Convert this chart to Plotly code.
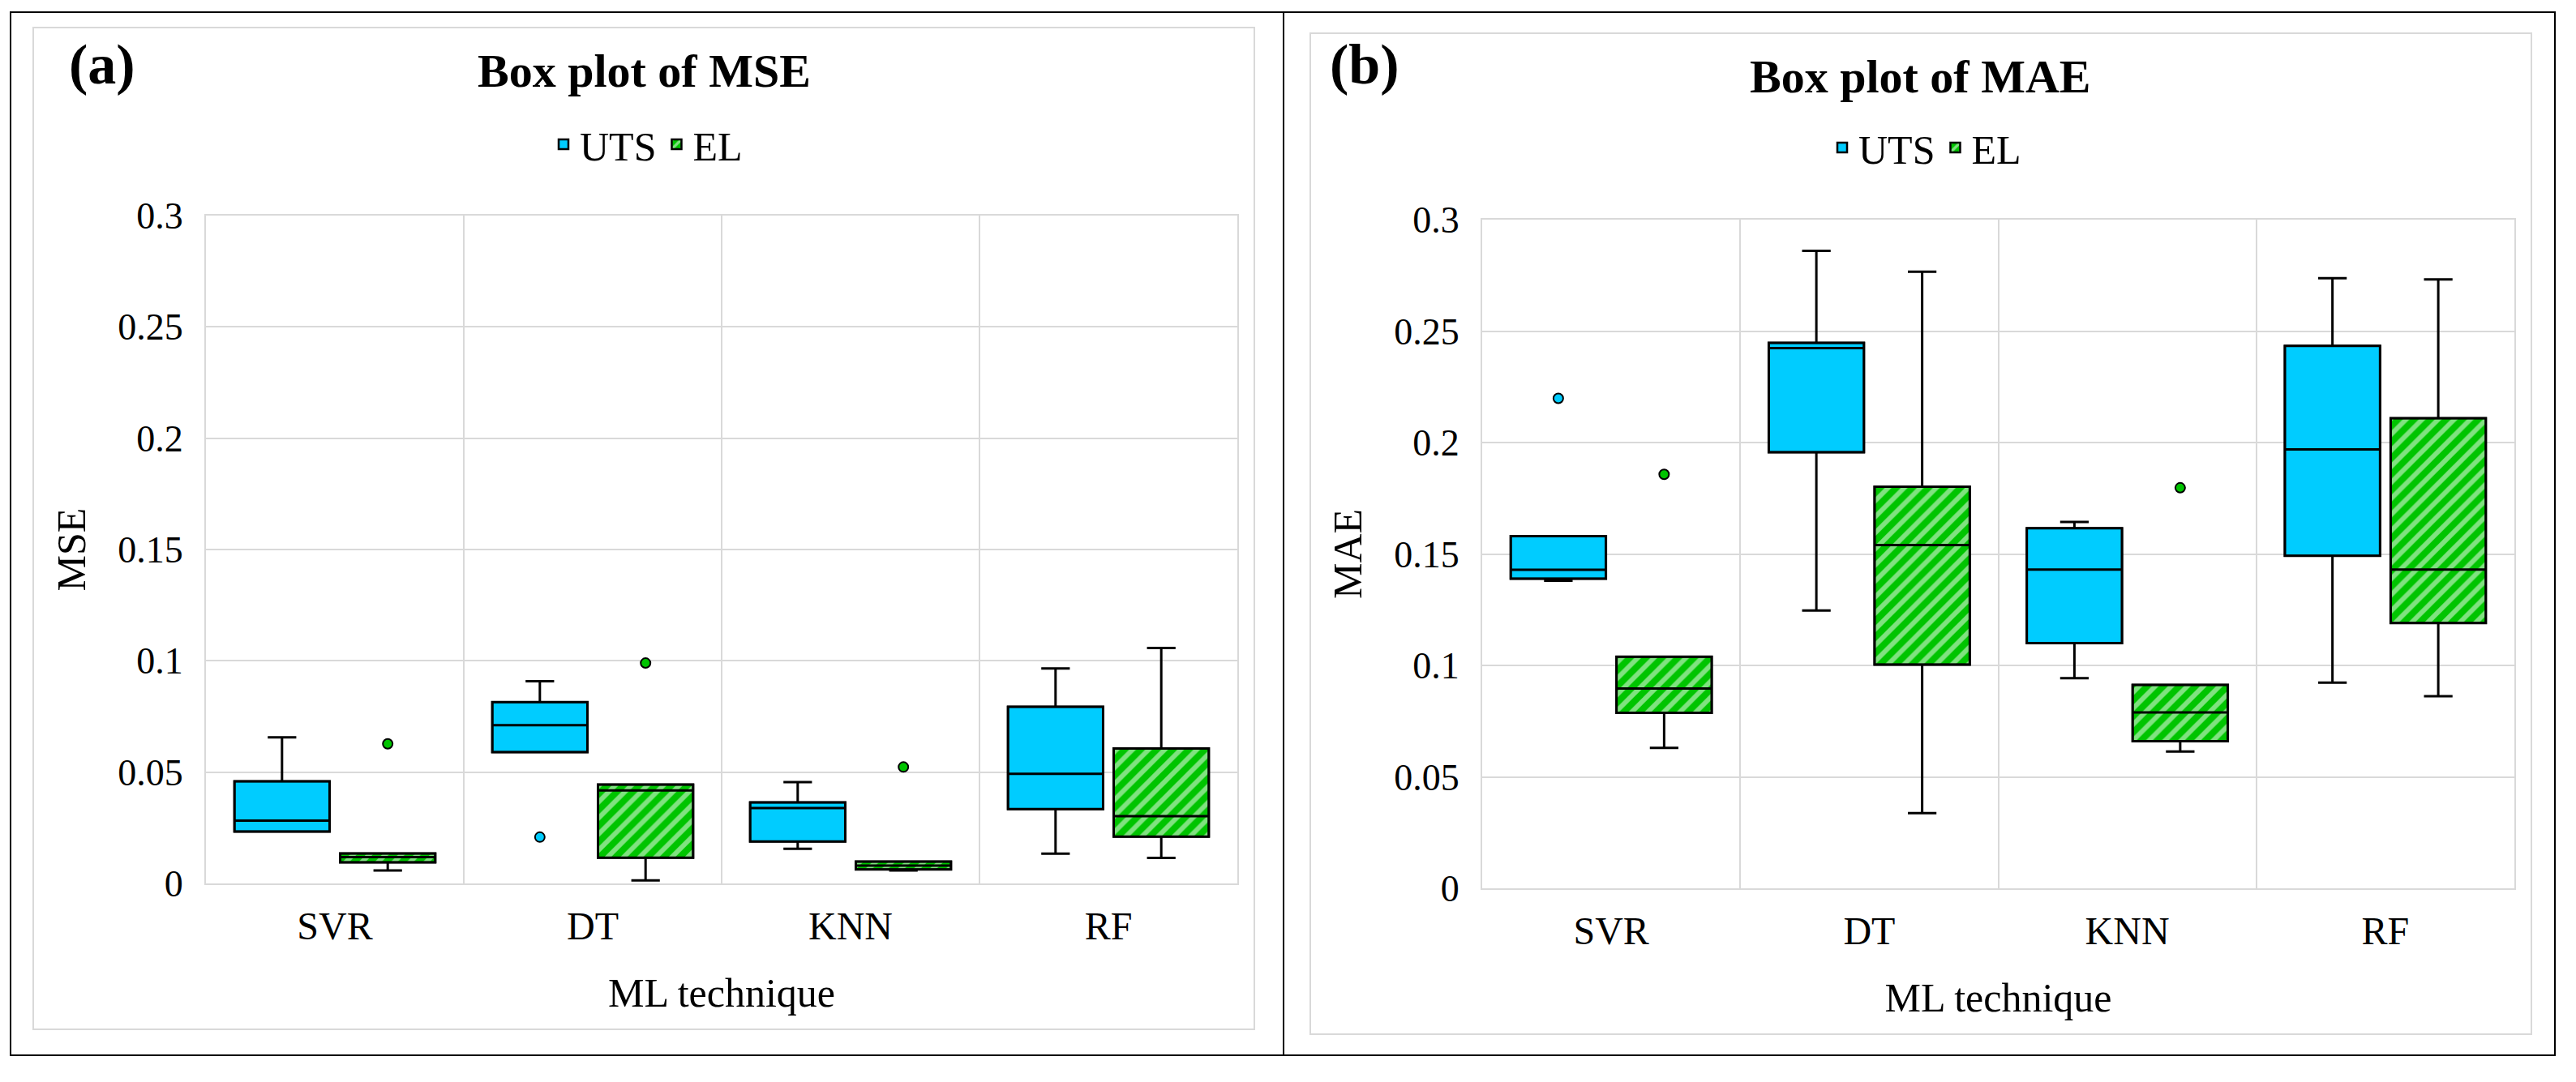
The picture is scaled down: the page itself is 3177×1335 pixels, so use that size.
import plotly.graph_objects as go

# page is rendered with an 8px body margin: figure sized to fit, coordinates shifted
OFF = 8
W, H = 3177 - 2 * OFF, 1335 - 2 * OFF

categories = ["SVR", "DT", "KNN", "RF"]

# ---- MSE (panel a) ----
mse_uts_lower = [0.0233, 0.0590, 0.0156, 0.0134]
mse_uts_q1 = [0.0233, 0.0590, 0.0188, 0.0334]
mse_uts_median = [0.0282, 0.0711, 0.0339, 0.0492]
mse_uts_q3 = [0.0459, 0.0815, 0.0364, 0.0794]
mse_uts_upper = [0.0656, 0.0908, 0.0455, 0.0966]
mse_uts_out_x = ["DT"]
mse_uts_out_y = [0.0208]

mse_el_lower = [0.0058, 0.0014, 0.0058, 0.0115]
mse_el_q1 = [0.0095, 0.0116, 0.0063, 0.0210]
mse_el_median = [0.0118, 0.0418, 0.0080, 0.0302]
mse_el_q3 = [0.0135, 0.0444, 0.0098, 0.0606]
mse_el_upper = [0.0135, 0.0444, 0.0098, 0.1058]
mse_el_out_x = ["SVR", "DT", "KNN"]
mse_el_out_y = [0.0627, 0.0990, 0.0523]

# ---- MAE (panel b) ----
mae_uts_lower = [0.1380, 0.1246, 0.0943, 0.0923]
mae_uts_q1 = [0.1389, 0.1956, 0.1100, 0.1492]
mae_uts_median = [0.1429, 0.2424, 0.1430, 0.1969]
mae_uts_q3 = [0.1580, 0.2447, 0.1615, 0.2434]
mae_uts_upper = [0.1580, 0.2860, 0.1644, 0.2737]
mae_uts_out_x = ["SVR"]
mae_uts_out_y = [0.2198]

mae_el_lower = [0.0630, 0.0337, 0.0614, 0.0862]
mae_el_q1 = [0.0787, 0.1004, 0.0660, 0.1190]
mae_el_median = [0.0896, 0.1540, 0.0789, 0.1430]
mae_el_q3 = [0.1039, 0.1802, 0.0913, 0.2109]
mae_el_upper = [0.1039, 0.2766, 0.0913, 0.2732]
mae_el_out_x = ["SVR", "KNN"]
mae_el_out_y = [0.1857, 0.1797]

ytick_vals = [0, 0.05, 0.1, 0.15, 0.2, 0.25, 0.3]
ytick_text = ["0", "0.05", "0.1", "0.15", "0.2", "0.25", "0.3"]

CYAN = "#00CCFF"
GREEN = "#00C400"
GRID = "#d9d9d9"
FONT = "Liberation Serif, Times New Roman, serif"

fig = go.Figure()


def add_panel(xa, ya, lg, uts, el, uts_out, el_out):
    ag = "grp_" + xa
    for name, stats, color, pattern, og in [
        ("UTS", uts, CYAN, None, "UTS"),
        ("EL", el, GREEN, dict(shape="/", fgcolor="white", bgcolor=GREEN,
                               size=14, solidity=0.42), "EL"),
    ]:
        lo, q1, med, q3, up = stats
        marker = dict(color=color, line=dict(color="black", width=2.5))
        if pattern is not None:
            marker["pattern"] = pattern
        fig.add_trace(go.Bar(
            x=categories, y=[b - a for a, b in zip(q1, q3)], base=q1,
            name=name, marker=marker, xaxis=xa, yaxis=ya, legend=lg,
            offsetgroup=og, alignmentgroup=ag, showlegend=True,
            hoverinfo="skip"))
        fig.add_trace(go.Box(
            x=categories, q1=q1, median=med, q3=q3,
            lowerfence=lo, upperfence=up,
            name=name, fillcolor="rgba(0,0,0,0)",
            line=dict(color="black", width=3), whiskerwidth=0.3,
            boxpoints=False, xaxis=xa, yaxis=ya, showlegend=False,
            offsetgroup=og, alignmentgroup=ag, hoverinfo="skip"))
    for name, (ox, oy), color, og in [
        ("UTS", uts_out, CYAN, "UTS"),
        ("EL", el_out, GREEN, "EL"),
    ]:
        fig.add_trace(go.Scatter(
            x=ox, y=oy, mode="markers", name=name + " outlier",
            marker=dict(color=color, size=12, line=dict(color="black", width=2)),
            xaxis=xa, yaxis=ya, showlegend=False, offsetgroup=og,
            alignmentgroup=ag, hoverinfo="skip"))


add_panel("x", "y", "legend",
          (mse_uts_lower, mse_uts_q1, mse_uts_median, mse_uts_q3, mse_uts_upper),
          (mse_el_lower, mse_el_q1, mse_el_median, mse_el_q3, mse_el_upper),
          (mse_uts_out_x, mse_uts_out_y), (mse_el_out_x, mse_el_out_y))
add_panel("x2", "y2", "legend2",
          (mae_uts_lower, mae_uts_q1, mae_uts_median, mae_uts_q3, mae_uts_upper),
          (mae_el_lower, mae_el_q1, mae_el_median, mae_el_q3, mae_el_upper),
          (mae_uts_out_x, mae_uts_out_y), (mae_el_out_x, mae_el_out_y))


def px(v):
    return (v - OFF) / W


def py(v):
    return 1 - (v - OFF) / H


xax = dict(type="category", categoryorder="array", categoryarray=categories,
           tickson="boundaries", showgrid=True, gridcolor=GRID, gridwidth=2,
           showline=True, mirror=True, linecolor=GRID, linewidth=2,
           ticks="", ticklabelstandoff=9,
           tickfont=dict(family=FONT, size=48, color="black"),
           title=dict(text="ML technique", font=dict(family=FONT, size=50, color="black"),
                      standoff=39),
           zeroline=False, fixedrange=True)
yax = dict(range=[0, 0.3], tickvals=ytick_vals, ticktext=ytick_text,
           showgrid=True, gridcolor=GRID, gridwidth=2, zeroline=False,
           showline=True, mirror=True, linecolor=GRID, linewidth=2,
           ticks="", ticklabelstandoff=17,
           tickfont=dict(family=FONT, size=46, color="black"), fixedrange=True)

fig.update_layout(
    width=W, height=H, autosize=False,
    margin=dict(l=0, r=0, t=0, b=0, autoexpand=False),
    paper_bgcolor="white", plot_bgcolor="white",
    font=dict(family=FONT, color="black"),
    barmode="group", bargap=0.18, bargroupgap=0.1,
    boxmode="group", boxgap=0.18, boxgroupgap=0.1,
    scattermode="group", scattergap=0.18,
    xaxis=dict(xax, domain=[px(254), px(1526)], anchor="y"),
    yaxis=dict(yax, domain=[py(1090), py(266)], anchor="x",
               title=dict(text="MSE", font=dict(family=FONT, size=50, color="black"),
                          standoff=24)),
    xaxis2=dict(xax, domain=[px(1828), px(3101)], anchor="y2"),
    yaxis2=dict(yax, domain=[py(1096), py(271)], anchor="x2",
                title=dict(text="MAE", font=dict(family=FONT, size=50, color="black"),
                           standoff=24)),
    legend=dict(orientation="h", x=px(798), y=py(178), xanchor="center",
                yanchor="middle", font=dict(family=FONT, size=50, color="black"),
                bgcolor="rgba(0,0,0,0)", itemclick=False, itemdoubleclick=False,
                tracegroupgap=0),
    legend2=dict(orientation="h", x=px(2375), y=py(182), xanchor="center",
                 yanchor="middle", font=dict(family=FONT, size=50, color="black"),
                 bgcolor="rgba(0,0,0,0)", itemclick=False, itemdoubleclick=False,
                 tracegroupgap=0),
    showlegend=True,
)

shapes = [
    dict(type="rect", xref="paper", yref="paper", x0=px(13), x1=px(3151),
         y0=py(1302), y1=py(15), line=dict(color="black", width=2)),
    dict(type="line", xref="paper", yref="paper", x0=px(1583), x1=px(1583),
         y0=py(1302), y1=py(15), line=dict(color="black", width=2)),
    dict(type="rect", xref="paper", yref="paper", x0=px(41), x1=px(1547),
         y0=py(1270), y1=py(34), line=dict(color=GRID, width=2)),
    dict(type="rect", xref="paper", yref="paper", x0=px(1616), x1=px(3122),
         y0=py(1276), y1=py(41), line=dict(color=GRID, width=2)),
]
fig.update_layout(shapes=shapes)

annotations = [
    dict(text="<b>Box plot of MSE</b>", x=px(794), y=py(88), xref="paper", yref="paper",
         xanchor="center", yanchor="middle", showarrow=False,
         font=dict(family=FONT, size=58, color="black")),
    dict(text="<b>Box plot of MAE</b>", x=px(2368), y=py(94), xref="paper", yref="paper",
         xanchor="center", yanchor="middle", showarrow=False,
         font=dict(family=FONT, size=58, color="black")),
    dict(text="<b>(a)</b>", x=px(126), y=py(80), xref="paper", yref="paper",
         xanchor="center", yanchor="middle", showarrow=False,
         font=dict(family=FONT, size=70, color="black")),
    dict(text="<b>(b)</b>", x=px(1683), y=py(80), xref="paper", yref="paper",
         xanchor="center", yanchor="middle", showarrow=False,
         font=dict(family=FONT, size=70, color="black")),
]
fig.update_layout(annotations=annotations)

fig.write_html("out.html")
